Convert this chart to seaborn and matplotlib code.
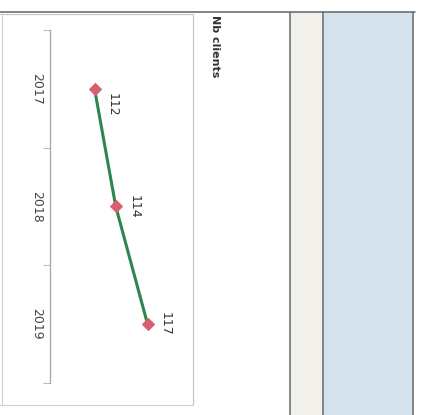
import numpy as np
import pandas as pd
import matplotlib
matplotlib.use("Agg")
import matplotlib.pyplot as plt
from matplotlib.patches import Rectangle
import seaborn as sbn

# data read from the (rotated) scan
years = ["2017", "2018", "2019"]
clients = [112, 114, 117]
label_dy = [16, 0, 0]   # pixel shift of each value label along the category axis

W, H = 421, 415
sbn.set_style("white")
plt.rcParams['font.family'] = ['DejaVu Sans']

fig = plt.figure(figsize=(W / 100, H / 100), dpi=100)
fig.patch.set_facecolor("white")

# background layer in pixel coords (scan of the table around the chart)
bg = fig.add_axes([0, 0, 1, 1], zorder=0)
bg.set_xlim(0, W)
bg.set_ylim(H, 0)
bg.axis("off")
bg.add_patch(Rectangle((290, 12), 33, 403, facecolor="#f1f0ea", edgecolor="none"))
bg.add_patch(Rectangle((323, 12), 91, 403, facecolor="#d6e3ec", edgecolor="none"))
bg.plot([0, 415], [12, 12], color="#6f6f6f", lw=1.2)
bg.plot([0, 193], [14.5, 14.5], color="#c4c4c4", lw=0.8)
bg.plot([1.5, 1.5], [14, 405], color="#cfcfcf", lw=0.8)
bg.plot([193, 193], [14, 405], color="#c4c4c4", lw=0.8)
bg.plot([0, 193], [405, 405], color="#cfcfcf", lw=0.8)
for xv in [290, 323, 413]:
    bg.plot([xv, xv], [12, H], color="#6a6a6a", lw=1.1)

# the chart itself, drawn rotated: categories run down, values run right
ax = fig.add_axes([50 / W, 1 - 383 / H, 140 / W, 353 / H], zorder=2)
ax.patch.set_alpha(0)
df = pd.DataFrame({"year": years, "pos": np.arange(len(years)), "clients": clients})
sbn.lineplot(data=df, x="clients", y="pos", sort=False, color="#2e8550", lw=2.2,
             marker="D", markersize=6.5, markerfacecolor="#d9606e",
             markeredgecolor="#d9606e", ax=ax)

for i, r in df.iterrows():
    ax.annotate(str(r["clients"]), (r["clients"], r["pos"]), xytext=(18, -label_dy[i]),
                textcoords="offset pixels", rotation=-90, ha="center", va="center",
                fontsize=9, color="#333333")

ax.set_xlim(107.8, 121.0)
ax.set_ylim(len(years) - 0.5, -0.5)
ax.set_xlabel("")
ax.set_ylabel("")
ax.set_xticks([])
ax.set_yticks(df["pos"])
ax.set_yticklabels(years, rotation=-90, va="center", fontsize=9, color="#444444")
ax.set_yticks(np.arange(-0.5, len(years), 1), minor=True)
ax.tick_params(axis="y", which="major", length=0, pad=5)
ax.tick_params(axis="y", which="minor", length=5, color="#aaaaaa", left=True)
for s in ["top", "right", "bottom"]:
    ax.spines[s].set_visible(False)
ax.spines["left"].set_color("#aaaaaa")
ax.spines["left"].set_linewidth(1)

fig.text(215 / W, 1 - 15 / H, "Nb clients", rotation=-90, ha="center", va="top",
         fontsize=8, fontweight="bold", color="#333333")

plt.savefig("out.png", dpi=100)
